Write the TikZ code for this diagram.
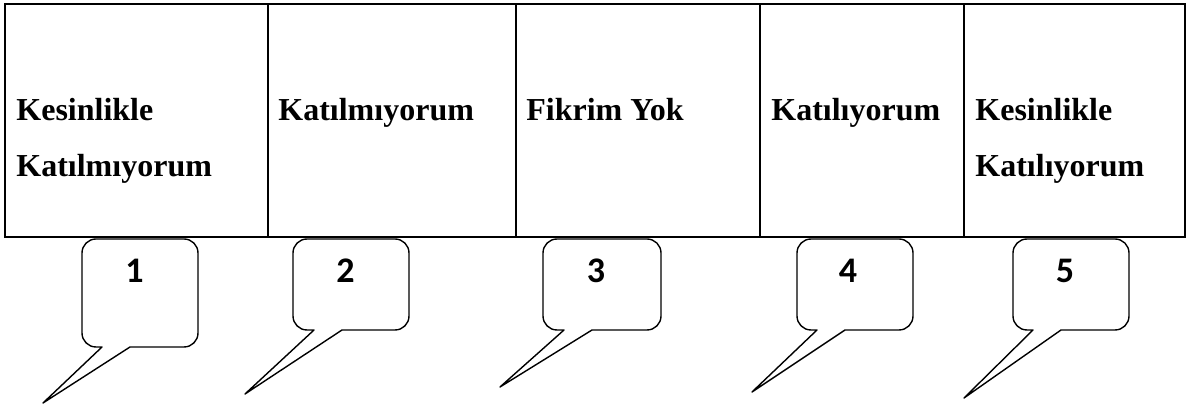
\documentclass[tikz,border=0pt]{standalone}
\usepackage{fontspec}
\setmainfont{Liberation Serif}
\newfontfamily\numfont{Carlito}
\begin{document}
\begin{tikzpicture}[
    x=0.5pt, y=-0.5pt,
    cell/.style={anchor=base west,inner sep=0pt,font=\fontsize{16}{19}\selectfont\bfseries},
    num/.style={anchor=base,inner sep=0pt,font=\numfont\fontsize{18}{22}\selectfont\bfseries},
    bubble/.style={draw,line width=0.7pt,line join=round},
    grid/.style={draw,line width=1pt}
]
\useasboundingbox (0,0) rectangle (1190,405);

%Draw the table
\draw[grid] (5,4) rectangle (1185,237);
\draw[grid] (268,4) -- (268,237);
\draw[grid] (516,4) -- (516,237);
\draw[grid] (760,4) -- (760,237);
\draw[grid] (964,4) -- (964,237);

\node[cell] (k1) at (16,121) {Kesinlikle};
\node[cell] (k1b) at (16,177) {Katılmıyorum};
\node[cell] (k2) at (278,121) {Katılmıyorum};
\node[cell] (k3) at (526,121) {Fikrim Yok};
\node[cell] (k4) at (771,121) {Katılıyorum};
\node[cell] (k5) at (975,121) {Kesinlikle};
\node[cell] (k5b) at (975,177) {Katılıyorum};

%Draw the callouts
\draw[bubble] (82,290) [rounded corners=7pt] -- (82,347) [sharp corners] -- (102,347) -- (43,403) -- (130,347) [rounded corners=7pt] -- (198,347) -- (198,239) -- (82,239) -- cycle;
\draw[bubble] (293,290) [rounded corners=7pt] -- (293,330) [sharp corners] -- (314,330) -- (245,394) -- (342,330) [rounded corners=7pt] -- (409,330) -- (409,239) -- (293,239) -- cycle;
\draw[bubble] (543,290) [rounded corners=7pt] -- (543,330) [sharp corners] -- (564,330) -- (500,387) -- (592,330) [rounded corners=7pt] -- (661,330) -- (661,239) -- (543,239) -- cycle;
\draw[bubble] (797,290) [rounded corners=7pt] -- (797,330) [sharp corners] -- (817,330) -- (752,392) -- (845,330) [rounded corners=7pt] -- (913,330) -- (913,239) -- (797,239) -- cycle;
\draw[bubble] (1013,290) [rounded corners=7pt] -- (1013,330) [sharp corners] -- (1033,330) -- (964,398) -- (1061,330) [rounded corners=7pt] -- (1129,330) -- (1129,239) -- (1013,239) -- cycle;

\node[num] (n1) at (134.5,283) {1};
\node[num] (n2) at (345.5,283) {2};
\node[num] (n3) at (596,283) {3};
\node[num] (n4) at (848,283) {4};
\node[num] (n5) at (1065,283) {5};

\end{tikzpicture}
\end{document}
